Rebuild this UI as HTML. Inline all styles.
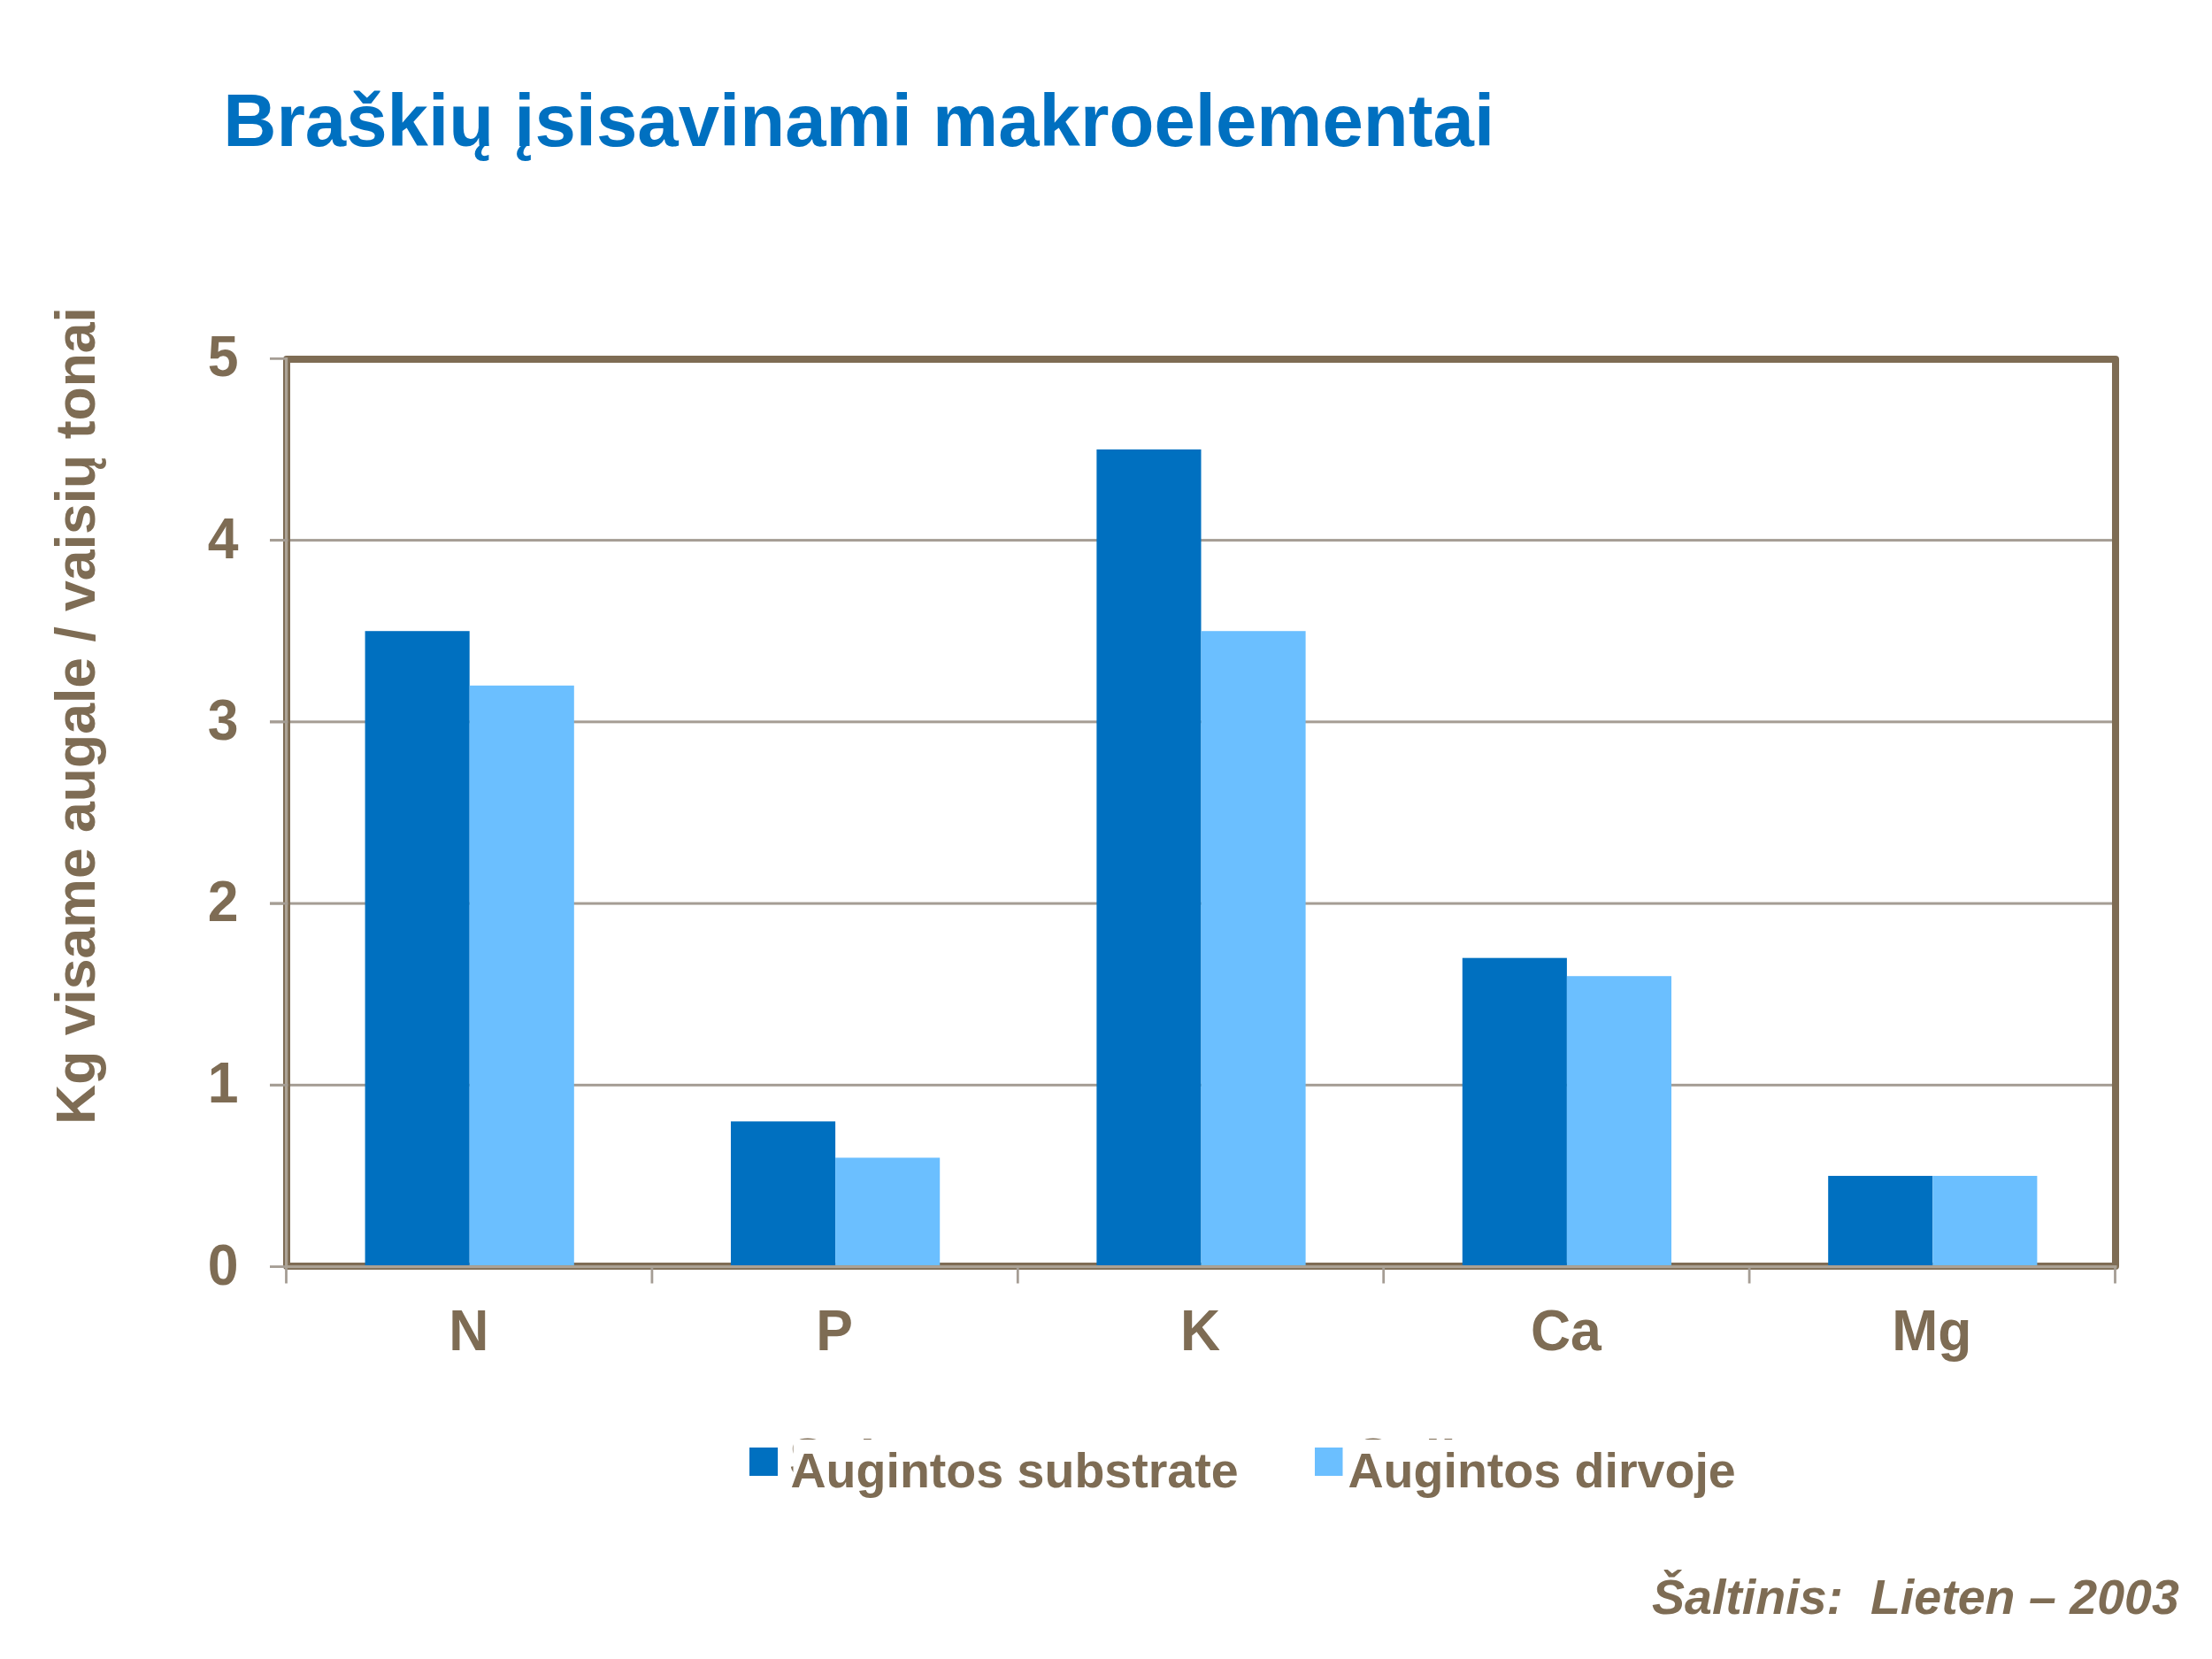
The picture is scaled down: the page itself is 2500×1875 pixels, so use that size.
<!DOCTYPE html>
<html lang="lt"><head><meta charset="utf-8"><title>Braškių įsisavinami makroelementai</title>
<style>html,body{margin:0;padding:0;background:#fff}body{width:2500px;height:1875px;overflow:hidden}svg{display:block}text{font-family:"Liberation Sans",Arial,sans-serif;font-weight:bold}</style></head><body>
<svg width="2500" height="1875" viewBox="0 0 2500 1875">
<rect width="2500" height="1875" fill="#fff"/>
<text x="252.2" y="164.8" font-size="83.4" fill="#0070c0">Braškių įsisavinami makroelementai</text>
<rect x="305" y="1224.85" width="2086.0" height="3" fill="#a59d94"/>
<rect x="305" y="1019.60" width="2086.0" height="3" fill="#a59d94"/>
<rect x="305" y="814.35" width="2086.0" height="3" fill="#a59d94"/>
<rect x="305" y="609.10" width="2086.0" height="3" fill="#a59d94"/>
<rect x="324.0" y="406.0" width="2067.0" height="1025.0" fill="none" stroke="#7e6c54" stroke-width="8" stroke-linejoin="round"/>
<rect x="412.59" y="713.22" width="118.11" height="716.78" fill="#0070c0"/>
<rect x="530.70" y="774.80" width="118.11" height="655.20" fill="#6bbfff"/>
<rect x="825.99" y="1267.40" width="118.11" height="162.60" fill="#0070c0"/>
<rect x="944.10" y="1308.45" width="118.11" height="121.55" fill="#6bbfff"/>
<rect x="1239.39" y="507.97" width="118.11" height="922.03" fill="#0070c0"/>
<rect x="1357.50" y="713.22" width="118.11" height="716.78" fill="#6bbfff"/>
<rect x="1652.79" y="1082.67" width="118.11" height="347.33" fill="#0070c0"/>
<rect x="1770.90" y="1103.20" width="118.11" height="326.80" fill="#6bbfff"/>
<rect x="2066.19" y="1328.97" width="118.11" height="101.03" fill="#0070c0"/>
<rect x="2184.30" y="1328.97" width="118.11" height="101.03" fill="#6bbfff"/>
<rect x="322.0" y="404" width="3.2" height="1029.2" fill="#aca396"/>
<rect x="322.0" y="1430.1" width="2070.5" height="3.1" fill="#aca396"/>
<rect x="305" y="1430.20" width="17.0" height="2.8" fill="#a59d94"/>
<rect x="305" y="1224.95" width="20.4" height="2.8" fill="#a59d94"/>
<rect x="305" y="1019.70" width="20.4" height="2.8" fill="#a59d94"/>
<rect x="305" y="814.45" width="20.4" height="2.8" fill="#a59d94"/>
<rect x="305" y="609.20" width="20.4" height="2.8" fill="#a59d94"/>
<rect x="305" y="403.95" width="17.0" height="2.8" fill="#a59d94"/>
<rect x="322.10" y="1433" width="2.8" height="17.5" fill="#a59d94"/>
<rect x="735.50" y="1433" width="2.8" height="17.5" fill="#a59d94"/>
<rect x="1148.90" y="1433" width="2.8" height="17.5" fill="#a59d94"/>
<rect x="1562.30" y="1433" width="2.8" height="17.5" fill="#a59d94"/>
<rect x="1975.70" y="1433" width="2.8" height="17.5" fill="#a59d94"/>
<rect x="2389.10" y="1433" width="2.8" height="17.5" fill="#a59d94"/>
<text transform="translate(269.6,1451.6) scale(1,1.04)" font-size="62.5" text-anchor="end" fill="#7e6c54">0</text>
<text transform="translate(269.6,1246.3) scale(1,1.04)" font-size="62.5" text-anchor="end" fill="#7e6c54">1</text>
<text transform="translate(269.6,1041.1) scale(1,1.04)" font-size="62.5" text-anchor="end" fill="#7e6c54">2</text>
<text transform="translate(269.6,835.8) scale(1,1.04)" font-size="62.5" text-anchor="end" fill="#7e6c54">3</text>
<text transform="translate(269.6,630.6) scale(1,1.04)" font-size="62.5" text-anchor="end" fill="#7e6c54">4</text>
<text transform="translate(269.6,425.3) scale(1,1.04)" font-size="62.5" text-anchor="end" fill="#7e6c54">5</text>
<text transform="translate(529.7,1525.6) scale(1,1.04)" font-size="62.5" text-anchor="middle" fill="#7e6c54">N</text>
<text transform="translate(943.1,1525.6) scale(1,1.04)" font-size="62.5" text-anchor="middle" fill="#7e6c54">P</text>
<text transform="translate(1356.5,1525.6) scale(1,1.04)" font-size="62.5" text-anchor="middle" fill="#7e6c54">K</text>
<text transform="translate(1769.9,1525.6) scale(1,1.04)" font-size="62.5" text-anchor="middle" fill="#7e6c54">Ca</text>
<text transform="translate(2183.3,1525.6) scale(1,1.04)" font-size="62.5" text-anchor="middle" fill="#7e6c54">Mg</text>
<text transform="translate(107,1271) rotate(-90)" font-size="62.5" fill="#7e6c54">Kg visame augale / vaisių tonai</text>
<rect x="847" y="1636" width="32" height="32" fill="#0070c0"/>
<rect x="1486" y="1636" width="31.5" height="32" fill="#6bbfff"/>
<text x="892" y="1668.8" font-size="62.5" fill="#7e6c54">S<tspan dy="3">ubstrate</tspan></text>
<text x="1531" y="1668.8" font-size="62.5" fill="#7e6c54">S<tspan dy="3">oil</tspan></text>
<rect x="896.5" y="1627" width="420" height="70" fill="#fff"/>
<rect x="1528" y="1627" width="200" height="70" fill="#fff"/>
<text x="893.5" y="1680.8" font-size="55.56" fill="#7e6c54">Augintos substrate</text>
<text x="1523.5" y="1680.8" font-size="55.56" fill="#7e6c54">Augintos dirvoje</text>
<text x="1867" y="1823.7" font-size="55.56" font-style="italic" fill="#7e6c54" style="white-space:pre">Šaltinis:  Lieten – 2003</text>
</svg></body></html>
